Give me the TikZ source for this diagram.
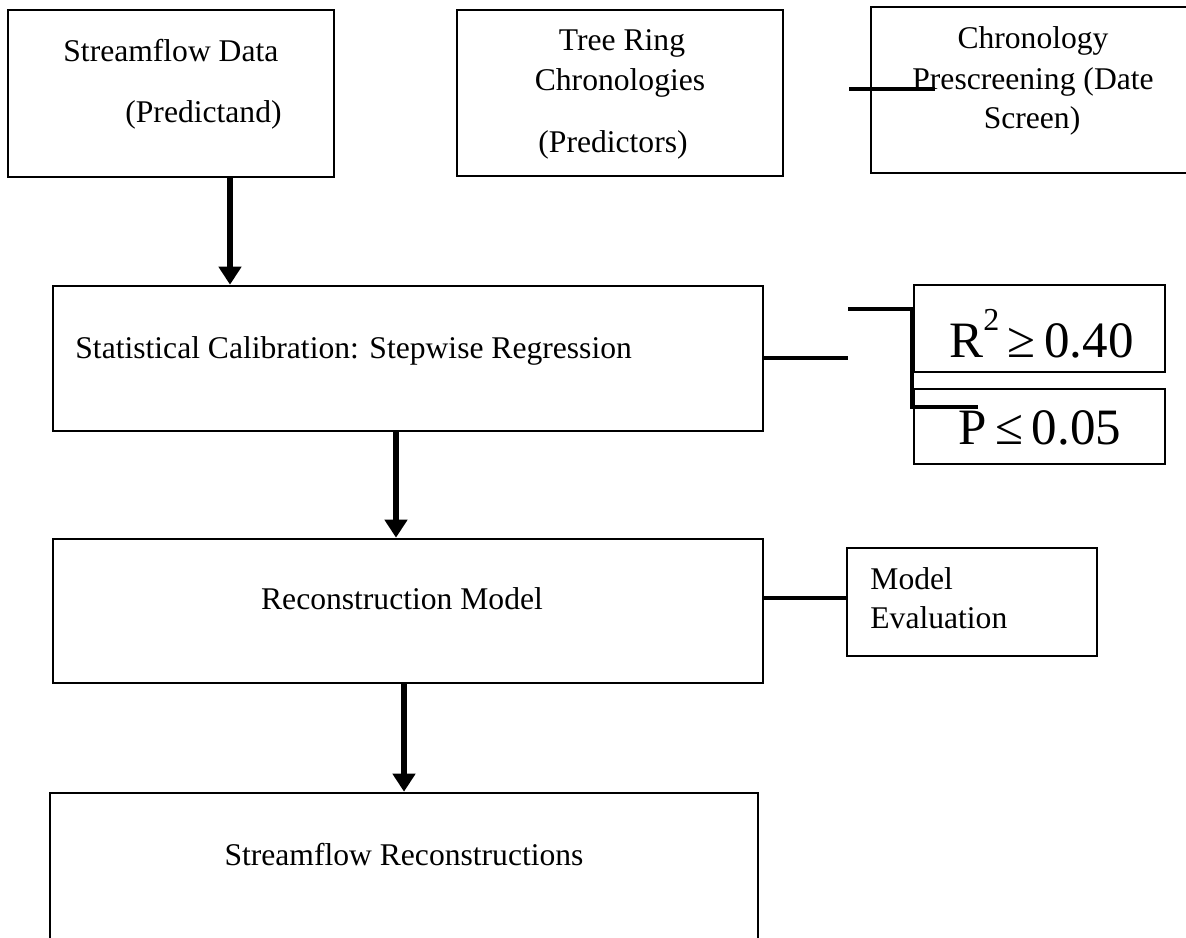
\documentclass[tikz,border=0pt]{standalone}
\usepackage{fontspec}
\setmainfont{Liberation Serif}
\usetikzlibrary{arrows.meta}
\newcommand{\mainsz}{\fontsize{15.8pt}{19pt}\selectfont}
\newcommand{\mathsz}{\fontsize{25.5pt}{30pt}\selectfont}
\begin{document}
\begin{tikzpicture}[x=0.5pt,y=-0.5pt,
  box/.style={draw, rectangle, line width=1.3pt, inner sep=0pt},
  txt/.style={inner sep=0pt, font=\mainsz},
  mtxt/.style={inner sep=0pt, font=\mathsz},
  arr/.style={line width=2.6pt, -{Triangle[width=11pt,length=9pt]}},
  conn/.style={line width=2.2pt},
  brk/.style={line width=1.7pt}]
\useasboundingbox (0,0) rectangle (1186,937);
\clip (0,0) rectangle (1186,937);
% boxes
\node[box, minimum width=163pt, minimum height=83.5pt] (b1) at (171,93.5) {};
\node[box, minimum width=163pt, minimum height=83pt] (b2) at (620,93) {};
\node[box, minimum width=162pt, minimum height=83pt] (b3) at (1033,90) {};
\node[box, minimum width=355pt, minimum height=72.5pt] (b4) at (408,358.5) {};
\node[box, minimum width=355pt, minimum height=72pt] (b5) at (408,611) {};
\node[box, minimum width=354pt, minimum height=73.5pt] (b6) at (404,866.5) {};
\node[box, minimum width=125.5pt, minimum height=43.5pt] (r2) at (1039.5,328.5) {};
\node[box, minimum width=125.5pt, minimum height=37.5pt] (pb) at (1039.5,426.5) {};
\node[box, minimum width=125pt, minimum height=54pt] (me) at (972,602) {};
% texts
\node[txt, anchor=base west] (t1a) at (63,61) {Streamflow Data};
\node[txt, anchor=base west] (t1b) at (125,122) {(Predictand)};
\node[txt, anchor=base] (t2a) at (622,50) {Tree Ring};
\node[txt, anchor=base] (t2b) at (620,90) {Chronologies};
\node[txt, anchor=base] (t2c) at (613,152) {(Predictors)};
\node[txt, anchor=base] (t3a) at (1033,48) {Chronology};
\node[txt, anchor=base] (t3b) at (1033,89) {Prescreening (Date};
\node[txt, anchor=base] (t3c) at (1032,128) {Screen)};
\node[txt, anchor=base west] (t4) at (75,358) {Statistical Calibration: Stepwise Regression};
\node[txt, anchor=base] (t5) at (402,609) {Reconstruction Model};
\node[txt, anchor=base west] (tm1) at (870,589) {Model};
\node[txt, anchor=base west] (tm2) at (870,628) {Evaluation};
\node[txt, anchor=base] (t6) at (404,865) {Streamflow Reconstructions};
\node[mtxt, anchor=base west] (tr) at (949,357) {R\raisebox{13.5pt}{\fontsize{16pt}{18pt}\selectfont 2}\,≥\,0.40};
\node[mtxt, anchor=base west] (tp) at (958,444) {P\,≤\,0.05};
% arrows
\coordinate (x1) at (230,0);
\coordinate (x2) at (396,0);
\coordinate (x3) at (404,0);
\draw[arr] (x1 |- b1.south) -- (x1 |- b4.north);
\draw[arr] (x2 |- b4.south) -- (x2 |- b5.north);
\draw[arr] (x3 |- b5.south) -- (x3 |- b6.north);
% side connectors
\coordinate (m1) at (849,89);
\coordinate (m2) at (935,89);
\draw[line width=2pt] (m1) -- (m2);
\coordinate (j1) at (848,358);
\draw[brk] (j1 -| b4.east) -- (j1);
\coordinate (k1) at (848,309);
\coordinate (k2) at (912,309);
\coordinate (k3) at (912,407);
\coordinate (k4) at (978,407);
\draw[brk] (k1) -- (k2) -- (k3) -- (k4);
\coordinate (n1) at (0,598);
\draw[conn] (n1 -| b5.east) -- (n1 -| me.west);
\end{tikzpicture}
\end{document}
